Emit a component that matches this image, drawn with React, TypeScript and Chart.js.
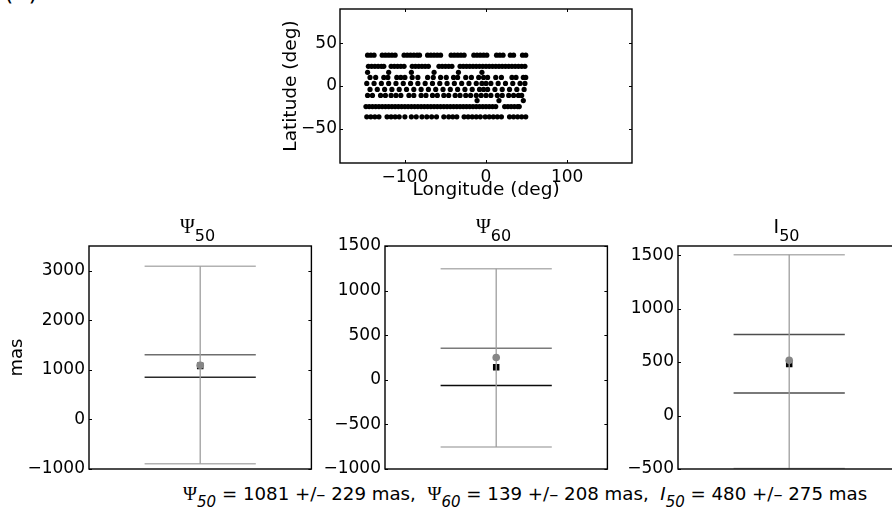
import React, { useEffect, useRef } from 'react';
import { Chart, registerables } from 'chart.js';
Chart.register(...registerables);

const SANS = "'DejaVu Sans', 'Liberation Sans', Arial, sans-serif";
const SERIF = "'Liberation Serif', 'DejaVu Serif', serif";

// ---------- top panel: station map ----------
const lonTicks = [-100, 0, 100];
const latTicks = [-50, 0, 50];
const rowLatitudes = [36, 23, 16, 10, 3, -4, -11, -17, -24, -36];
const lonRow36 = [-146, -142, -138, -128, -124, -120, -116, -112, -101, -97, -93, -89, -85, -82, -72, -68, -64, -60, -56, -43, -39, -35, -31, -27, -15, -11, -7, -3, 1, 13, 17, 21, 30, 34, 45, 49];
const lonRow23 = [-145, -141, -137, -133, -129, -126, -117, -113, -109, -105, -101, -91, -87, -83, -79, -75, -71, -58, -54, -50, -46, -42, -32, -28, -24, -20, -16, -12, -8, -4, 0, 4, 8, 12, 16, 20, 24, 28, 32, 36, 40, 44, 48];
const lonRow16 = [-146, -120, -92, -64, -34, -5];
const lonRow10 = [-143, -136, -126, -121, -110, -105, -100, -91, -84, -72, -65, -56, -49, -40, -35, -25, -18, -9, -3, 2, 12, 19, 32, 37, 46, 49];
const lonRow3 = [-147, -138, -129, -120, -111, -102, -93, -84, -75, -66, -57, -48, -39, -30, -21, -12, -5, 0, 6, 15, 24, 33, 42, 48];
const lonRowM4 = [-143, -134, -125, -116, -107, -98, -89, -80, -71, -62, -53, -44, -35, -26, -17, -8, -3, 2, 11, 20, 29, 38, 47];
const lonRowM11 = [-146, -140, -130, -124, -117, -111, -105, -95, -89, -80, -74, -66, -60, -52, -46, -38, -32, -25, -19, -12, -6, 0, 6, 14, 20, 28, 34, 40, 44];
const lonRowM17 = [-11, 16, 46];
const lonRowM24 = [-148, -144, -140, -136, -132, -128, -124, -120, -116, -112, -108, -104, -100, -96, -92, -88, -84, -80, -76, -72, -68, -64, -60, -56, -52, -48, -44, -40, -36, -32, -28, -24, -20, -16, -12, -8, -4, 0, 4, 8, 12, 23, 27, 31, 35, 39, 41];
const lonRowM36 = [-147, -142, -137, -132, -122, -117, -112, -107, -100, -92, -86, -79, -73, -67, -61, -52, -46, -41, -36, -27, -22, -17, -12, -7, -1, 4, 9, 14, 19, 29, 34, 39, 44, 49];
const lonRows = [lonRow36, lonRow23, lonRow16, lonRow10, lonRow3, lonRowM4, lonRowM11, lonRowM17, lonRowM24, lonRowM36];

// ---------- bottom panels ----------
const panelNames = ['\u03A8', '\u03A8', 'I'];
const panelSubs = ['50', '60', '50'];
const axisMin = [-1000, -1000, -500];
const axisMax = [3500, 1500, 1585];
const panelTicks = [
  [-1000, 0, 1000, 2000, 3000],
  [-1000, -500, 0, 500, 1000, 1500],
  [-500, 0, 500, 1000, 1500],
];
const outerHigh = [3093, 1246, 1503];
const outerLow = [-892, -753, -495];
const bandHigh = [1308, 355, 757];
const bandLow = [852, -63, 210];
const grayEstimate = [1093, 250, 516];
const blackEstimate = [1081, 142, 482];
const captionValues = [1081, 139, 480];
const captionErrors = [229, 208, 275];

// styles (not data)
const bandHighColor = ['#6e6e6e', '#7a7a7a', '#4e4e4e'];
const bandLowColor = ['#2a2a2a', '#0a0a0a', '#4e4e4e'];
const panelBoxLeft = [89, 385, 678];
const panelAxisW = [89, 70, 70];
const BOX = 223;
const BOX_TOP = 246;

function fmt(v: number) {
  return v < 0 ? '\u2212' + Math.abs(v) : String(v);
}

function fixed(size: number, horizontal: boolean) {
  return (scale: any) => {
    if (horizontal) scale.height = size;
    else scale.width = size;
    scale.paddingTop = 0;
    scale.paddingBottom = 0;
    scale.paddingLeft = 0;
    scale.paddingRight = 0;
  };
}

const framePlugin = {
  id: 'frame',
  afterDatasetsDraw(chart: any, _args: any, opts: any) {
    const { ctx, chartArea } = chart;
    const { left, right, top, bottom } = chartArea;
    const L = 3;
    ctx.save();
    ctx.strokeStyle = '#000';
    ctx.lineWidth = 1;
    const seg = (x1: number, y1: number, x2: number, y2: number) => {
      ctx.beginPath();
      ctx.moveTo(x1, y1);
      ctx.lineTo(x2, y2);
      ctx.stroke();
    };
    const ys = chart.scales.y;
    ys.ticks.forEach((t: any) => {
      const p = Math.round(ys.getPixelForValue(t.value)) + 0.5;
      seg(left, p, left + L, p);
      seg(right, p, right - L, p);
    });
    if (opts && opts.xTicks) {
      const xs = chart.scales.x;
      xs.ticks.forEach((t: any) => {
        const p = Math.round(xs.getPixelForValue(t.value)) + 0.5;
        seg(p, bottom, p, bottom - L);
        seg(p, top, p, top + L);
      });
    }
    ctx.lineWidth = 1.4;
    ctx.strokeRect(left, top, right - left, bottom - top);
    ctx.restore();
  },
};

function MapChart() {
  const ref = useRef<HTMLCanvasElement>(null);
  useEffect(() => {
    const points: { x: number; y: number }[] = [];
    lonRows.forEach((row, i) => row.forEach((lon) => points.push({ x: lon, y: rowLatitudes[i] })));
    const font = { family: SANS, size: 17 };
    const titleFont = { family: SANS, size: 18.5 };
    const chart = new Chart(ref.current!, {
      type: 'scatter',
      data: {
        datasets: [
          {
            data: points,
            pointRadius: 2.6,
            pointBackgroundColor: '#000',
            pointBorderWidth: 0,
            borderColor: '#000',
            backgroundColor: '#000',
          },
        ],
      },
      options: {
        animation: false,
        responsive: false,
        events: [],
        layout: { padding: { top: 9, right: 8, left: 0, bottom: 0 } },
        plugins: { legend: { display: false }, tooltip: { enabled: false }, frame: { xTicks: true } } as any,
        scales: {
          x: {
            type: 'linear',
            min: -180,
            max: 180,
            afterBuildTicks: (s: any) => { s.ticks = lonTicks.map((v) => ({ value: v })); },
            afterFit: fixed(39, true),
            grid: { display: false, drawTicks: false },
            border: { display: false },
            ticks: { padding: 4, color: '#000', font, callback: (v: any) => fmt(Number(v)) },
            title: { display: true, text: 'Longitude (deg)', color: '#000', font: titleFont, padding: { top: 0, bottom: 1 } },
          },
          y: {
            type: 'linear',
            min: -90,
            max: 90,
            afterBuildTicks: (s: any) => { s.ticks = latTicks.map((v) => ({ value: v })); },
            afterFit: fixed(70, false),
            grid: { display: false, drawTicks: false },
            border: { display: false },
            ticks: { padding: 3, color: '#000', font, callback: (v: any) => fmt(Number(v)) },
            title: { display: true, text: 'Latitude (deg)', color: '#000', font: titleFont, padding: { top: 10, bottom: 0 } },
          },
        },
      },
      plugins: [framePlugin],
    } as any);
    return () => chart.destroy();
  }, []);
  return (
    <canvas
      ref={ref}
      width={370}
      height={202}
      style={{ position: 'absolute', left: 270, top: 0, width: 370, height: 202 }}
    />
  );
}

function ErrorPanel({ i }: { i: number }) {
  const ref = useRef<HTMLCanvasElement>(null);
  const axisW = panelAxisW[i];
  const w = axisW + BOX + 4;
  const h = 14 + BOX + 14;
  useEffect(() => {
    const font = { family: SANS, size: 17 };
    const line = (y: number, color: string, order: number) => ({
      data: [{ x: 0.25, y }, { x: 0.75, y }],
      showLine: true,
      borderColor: color,
      borderWidth: 1.5,
      pointRadius: 0,
      order,
    });
    const chart = new Chart(ref.current!, {
      type: 'scatter',
      data: {
        datasets: [
          { data: [{ x: 0.5, y: grayEstimate[i] }], pointRadius: 3.8, pointBackgroundColor: '#868686', pointBorderWidth: 0, order: 0 },
          { data: [{ x: 0.5, y: outerLow[i] }, { x: 0.5, y: outerHigh[i] }], showLine: true, borderColor: '#9e9e9e', borderWidth: 1.3, pointRadius: 0, order: 1 },
          { data: [{ x: 0.5, y: blackEstimate[i] }], pointStyle: 'rect', pointRadius: 4.6, pointBackgroundColor: '#000', pointBorderWidth: 0, order: 2 },
          line(outerHigh[i], '#b2b2b2', 3),
          line(outerLow[i], '#b2b2b2', 3),
          line(bandHigh[i], bandHighColor[i], 3),
          line(bandLow[i], bandLowColor[i], 3),
        ],
      },
      options: {
        animation: false,
        responsive: false,
        events: [],
        layout: { padding: { top: 14, right: 4, left: 0, bottom: 14 } },
        plugins: { legend: { display: false }, tooltip: { enabled: false }, frame: { xTicks: false } } as any,
        scales: {
          x: { type: 'linear', min: 0, max: 1, display: false },
          y: {
            type: 'linear',
            min: axisMin[i],
            max: axisMax[i],
            afterBuildTicks: (s: any) => { s.ticks = panelTicks[i].map((v) => ({ value: v })); },
            afterFit: fixed(axisW, false),
            grid: { display: false, drawTicks: false },
            border: { display: false },
            ticks: { padding: 4, color: '#000', font, callback: (v: any) => fmt(Number(v)) },
            title: { display: i === 0, text: 'mas', color: '#000', font: { family: SANS, size: 18 }, padding: { top: 7, bottom: 0 } },
          },
        },
      },
      plugins: [framePlugin],
    } as any);
    return () => chart.destroy();
  }, [i]);
  const boxCenter = panelBoxLeft[i] + BOX / 2;
  return (
    <>
      <canvas
        ref={ref}
        width={w}
        height={h}
        style={{ position: 'absolute', left: panelBoxLeft[i] - axisW, top: BOX_TOP - 14, width: w, height: h }}
      />
      <div
        style={{
          position: 'absolute',
          left: boxCenter - 63,
          width: 120,
          top: 216,
          textAlign: 'center',
          lineHeight: '20px',
          whiteSpace: 'nowrap',
          color: '#000',
        }}
      >
        <span style={{ fontFamily: i === 2 ? SANS : SERIF, fontSize: i === 2 ? 19 : 20 }}>{panelNames[i]}</span>
        <span style={{ fontFamily: SANS, fontSize: 16, position: 'relative', top: 8 }}>{panelSubs[i]}</span>
      </div>
    </>
  );
}

function Caption() {
  return (
    <div
      style={{
        position: 'absolute',
        left: 183,
        top: 484,
        fontFamily: SANS,
        fontSize: 18.2,
        lineHeight: '20px',
        whiteSpace: 'pre',
        color: '#000',
      }}
    >
      {panelNames.map((n, k) => (
        <span key={k}>
          {n === 'I' ? (
            <span style={{ fontStyle: 'italic' }}>{n}</span>
          ) : (
            <span style={{ fontFamily: SERIF, fontSize: 19 }}>{n}</span>
          )}
          <span style={{ fontStyle: 'italic', fontSize: 15, position: 'relative', top: 7 }}>{panelSubs[k]}</span>
          {' = ' + captionValues[k] + ' +/\u2013 ' + captionErrors[k] + ' mas' + (k < panelNames.length - 1 ? ',  ' : '')}
        </span>
      ))}
    </div>
  );
}

export default function App() {
  return (
    <div
      style={{
        position: 'fixed',
        left: 0,
        top: 0,
        width: 892,
        height: 523,
        overflow: 'hidden',
        background: '#fff',
      }}
    >
      <div style={{ position: 'absolute', left: 4, top: -22, fontFamily: SANS, fontSize: 24, color: '#000' }}>(b)</div>
      <MapChart />
      {[0, 1, 2].map((i) => (
        <ErrorPanel key={i} i={i} />
      ))}
      <Caption />
    </div>
  );
}
